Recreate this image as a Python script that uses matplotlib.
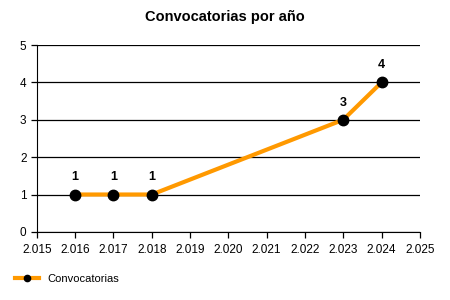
import matplotlib
matplotlib.use("Agg")
import matplotlib.pyplot as plt
from matplotlib.ticker import FuncFormatter, MultipleLocator

years = [2016, 2017, 2018, 2023, 2024]
counts = [1, 1, 1, 3, 4]
series_name = "Convocatorias"
title = "Convocatorias por año"

plt.rcParams['font.family'] = ['Liberation Sans', 'DejaVu Sans']

fig = plt.figure(figsize=(4.5, 3), dpi=100)
ax = fig.add_axes([0.082, 0.227, 0.851, 0.623])

ax.plot(years, counts, color='#FF9900', lw=3, marker='o', ms=7.5,
        mfc='black', mec='black', label=series_name, zorder=3)
for x, y in zip(years, counts):
    ax.annotate(str(y), (x, y), xytext=(0, 8), textcoords='offset points',
                ha='center', va='bottom', fontsize=9, fontweight='bold')

ax.set_xlim(2015, 2025)
ax.set_ylim(0, 5)
ax.xaxis.set_major_locator(MultipleLocator(1))
ax.yaxis.set_major_locator(MultipleLocator(1))
ax.xaxis.set_major_formatter(FuncFormatter(lambda v, p: f"{int(v):,}".replace(",", ".")))
ax.grid(axis='y', color='black', lw=0.9)
ax.set_axisbelow(True)
for s in ['top', 'right']:
    ax.spines[s].set_visible(False)
ax.tick_params(labelsize=8.5, length=4, width=0.9)
ax.tick_params(axis='x', pad=4.5)

fig.suptitle(title, x=0.5, y=0.965, fontsize=10.5, fontweight='bold')
fig.legend(loc='lower left', bbox_to_anchor=(0.01, 0.02), frameon=False,
           fontsize=8, handlelength=2.2, markerscale=0.6)

fig.savefig("out.png", dpi=100)
